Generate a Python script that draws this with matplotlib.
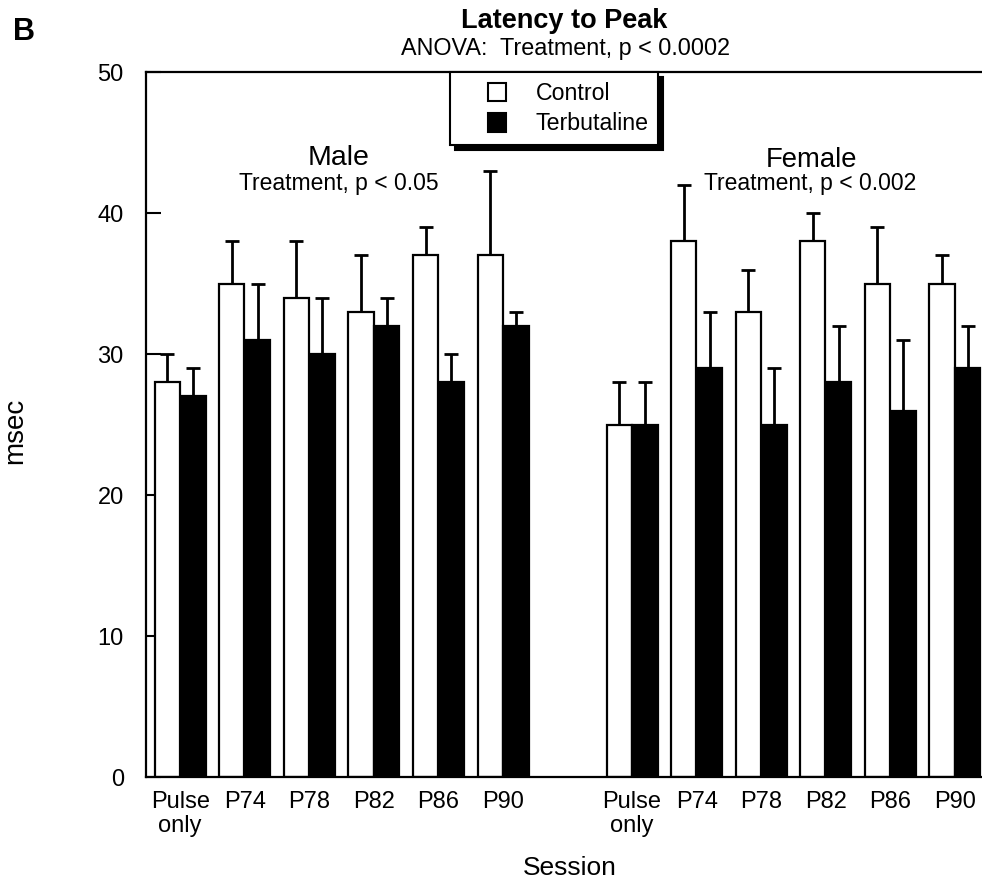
import numpy as np
import matplotlib
matplotlib.use("Agg")
import matplotlib.pyplot as plt
from matplotlib.patches import Patch, Rectangle
from matplotlib.legend_handler import HandlerPatch

plt.rcParams['font.family'] = ['Liberation Sans', 'DejaVu Sans']

sessions = ["Pulse\nonly", "P74", "P78", "P82", "P86", "P90"]

# mean latency (msec) and upper error
male_control = [28, 35, 34, 33, 37, 37]
male_control_err = [2, 3, 4, 4, 2, 6]
male_terb = [27, 31, 30, 32, 28, 32]
male_terb_err = [2, 4, 4, 2, 2, 1]

female_control = [25, 38, 33, 38, 35, 35]
female_control_err = [3, 4, 3, 2, 4, 2]
female_terb = [25, 29, 25, 28, 26, 29]
female_terb_err = [3, 4, 4, 4, 5, 3]

male_pos = np.arange(6)
female_pos = np.arange(6) + 7

fig = plt.figure(figsize=(9.82, 8.80), dpi=100)
ax = fig.add_axes([0.1487, 0.117, 0.8513, 0.801])

w = 0.39
off = 0.2
pos = np.concatenate([male_pos, female_pos])
control = male_control + female_control
control_err = male_control_err + female_control_err
terb = male_terb + female_terb
terb_err = male_terb_err + female_terb_err

for x, v, e, fc in [(pos - off, control, control_err, 'white'),
                    (pos + off, terb, terb_err, 'black')]:
    ax.errorbar(x, v, yerr=[np.zeros(len(e)), e], fmt='none', ecolor='black',
                elinewidth=2, capsize=5, capthick=2, zorder=1)
    ax.bar(x, v, width=w, color=fc, edgecolor='black', linewidth=1.6, zorder=2)

ax.set_xlim(-0.53, 12.42)
ax.set_ylim(0, 50)
ax.set_yticks([0, 10, 20, 30, 40, 50])
ax.tick_params(axis='y', direction='in', length=11, width=1.5, labelsize=17, pad=16)
ax.set_xticks(pos)
ax.set_xticklabels(sessions + sessions, linespacing=1.12)
ax.tick_params(axis='x', length=0, labelsize=17, pad=10)
ax.spines['right'].set_visible(False)
for s in ['left', 'top', 'bottom']:
    ax.spines[s].set_linewidth(1.6)

fig.text(0.0158, 0.51, "msec", rotation=90, ha='center', va='center', fontsize=20)
fig.text(0.58, 0.0057, "Session", ha='center', va='baseline', fontsize=19)

fig.text(0.5743, 0.968, "Latency to Peak", ha='center', va='baseline', fontsize=19.5, fontweight='bold')
fig.text(0.5763, 0.9375, "ANOVA:  Treatment, p < 0.0002", ha='center', va='baseline', fontsize=16.8)
fig.text(0.013, 0.9545, "B", va='baseline', fontsize=22, fontweight='bold')

ax.text(2.45, 43.9, "Male", ha='center', va='center', fontsize=20.5)
ax.text(2.45, 42.1, "Treatment, p < 0.05", ha='center', va='center', fontsize=16.5)
ax.text(9.78, 43.8, "Female", ha='center', va='center', fontsize=19.8)
ax.text(9.75, 42.1, "Treatment, p < 0.002", ha='center', va='center', fontsize=16.5)


def right_square(legend, orig_handle, xdescent, ydescent, width, height, fontsize):
    side = 0.8 * fontsize
    return Rectangle((width - xdescent - side, -ydescent + (height - side) / 2), side, side)


handles = [Patch(facecolor='white', edgecolor='black', linewidth=1.5, label='Control'),
           Patch(facecolor='black', edgecolor='black', linewidth=1.5, label='Terbutaline')]
leg = ax.legend(handles=handles, loc='upper left', bbox_to_anchor=(0.364, 1.0),
                fontsize=16.7, handlelength=2.0, handleheight=0.8, handletextpad=1.25,
                borderpad=0.42, borderaxespad=0, labelspacing=0.32, fancybox=False,
                shadow={'color': 'black', 'alpha': 1, 'ox': 3.5, 'oy': -3.5},
                framealpha=1, handler_map={Patch: HandlerPatch(patch_func=right_square)})
leg.get_frame().set_edgecolor('black')
leg.get_frame().set_linewidth(1.5)

fig.savefig("out.png", dpi=100)
